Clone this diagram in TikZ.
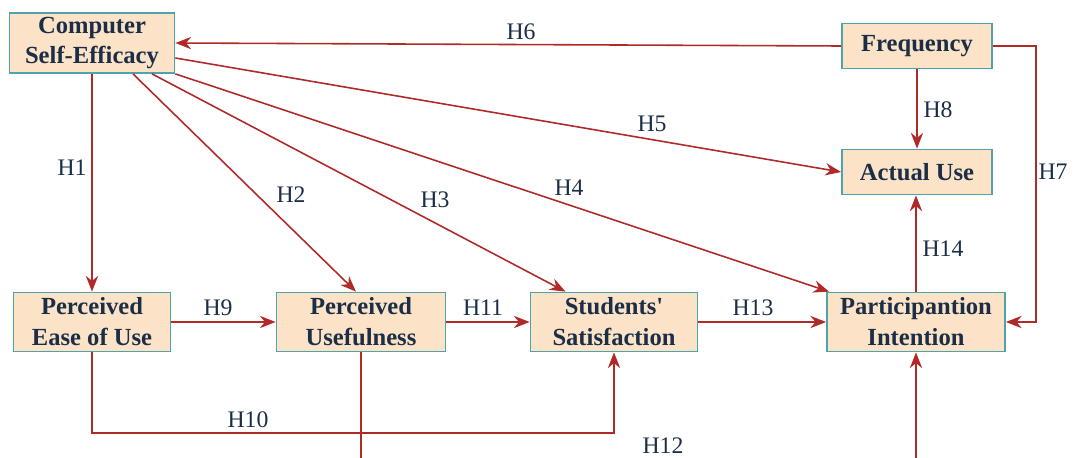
\documentclass[tikz,border=0pt]{standalone}
\usepackage{fontspec}
\setmainfont{Liberation Serif}
\usepackage{tikz}
\usetikzlibrary{arrows.meta, positioning}
\definecolor{cpeach}{HTML}{FCE3C7}
\definecolor{cteal}{HTML}{4FA3AA}
\definecolor{cred}{HTML}{B02A2A}
\definecolor{cnavy}{HTML}{1B2E47}
\tikzset{
  box/.style={draw=cteal, fill=cpeach, line width=1pt, align=center,
    inner sep=0pt, text=cnavy, font=\fontsize{14}{17.6}\selectfont\bfseries},
  hlbl/.style={text=cnavy, font=\fontsize{13.5}{16}\selectfont, inner sep=0pt},
  arr/.style={draw=cred, line width=0.9pt, -{Stealth[length=9pt, width=7pt]}},
}

\begin{document}
\begin{tikzpicture}[x=0.02cm, y=-0.02cm]
  \useasboundingbox (0,0) rectangle (1073,457);
  \clip (0,0) rectangle (1073,457);
  % boxes
  \node[box, minimum width=3.3cm, minimum height=1.2cm] (cse) at (92,43) {Computer\\Self-Efficacy};
  \node[box, minimum width=3cm, minimum height=0.9cm] (freq) at (917,46) {Frequency};
  \node[box, minimum width=3cm, minimum height=0.9cm] (use) at (917,172) {Actual Use};
  \node[box, minimum width=3.14cm, minimum height=1.18cm] (peou) at (92,322) {Perceived\\Ease of Use};
  \node[box, minimum width=3.38cm, minimum height=1.18cm] (pu) at (361,322) {Perceived\\Usefulness};
  \node[box, minimum width=3.34cm, minimum height=1.18cm] (sat) at (614,322) {Students\textquotesingle\\Satisfaction};
  \node[box, minimum width=3.56cm, minimum height=1.18cm] (pi) at (916,322) {Participantion\\Intention};
  % bends
  \coordinate (h7c) at (1036,46);
  \coordinate (h10c) at (92,433);
  \coordinate (h12c) at (361,490);
  % connectors
  \draw[arr] (cse.south) -- (peou.north);
  \draw[arr] ([xshift=0.82cm]cse.south) -- ([xshift=-0.1cm]pu.north);
  \draw[arr] ([xshift=1.2cm]cse.south) -- ([xshift=-0.97cm]sat.north);
  \draw[arr] (cse.south east) -- ([xshift=0.06cm]pi.north west);
  \draw[arr] ([yshift=-0.3cm]cse.east) -- (use.west);
  \draw[arr] (freq.west) -- (cse.east);
  \draw[arr] (freq.east) -- (h7c) |- (pi.east);
  \draw[arr] (freq.south) -- (use.north);
  \draw[arr] (peou.east) -- (pu.west);
  \draw[arr] (peou.south) -- (h10c) -| (sat.south);
  \draw[arr] (pu.east) -- (sat.west);
  \draw[arr] (pu.south) -- (h12c) -| (pi.south);
  \draw[arr] (sat.east) -- (pi.west);
  \draw[arr] (pi.north) -- (pi.north |- use.south);
  % labels
  \node[hlbl] (l1) at (72,168) {H1};
  \node[hlbl] (l2) at (291,195) {H2};
  \node[hlbl] (l3) at (435,200) {H3};
  \node[hlbl] (l4) at (569,188) {H4};
  \node[hlbl] (l5) at (652,124) {H5};
  \node[hlbl] (l6) at (521,32) {H6};
  \node[hlbl] (l7) at (1053,172) {H7};
  \node[hlbl] (l8) at (938,110) {H8};
  \node[hlbl] (l9) at (218,308) {H9};
  \node[hlbl] (l10) at (248,420) {H10};
  \node[hlbl] (l11) at (483,308) {H11};
  \node[hlbl] (l12) at (663,446) {H12};
  \node[hlbl] (l13) at (753,308) {H13};
  \node[hlbl] (l14) at (943,249) {H14};
\end{tikzpicture}
\end{document}
